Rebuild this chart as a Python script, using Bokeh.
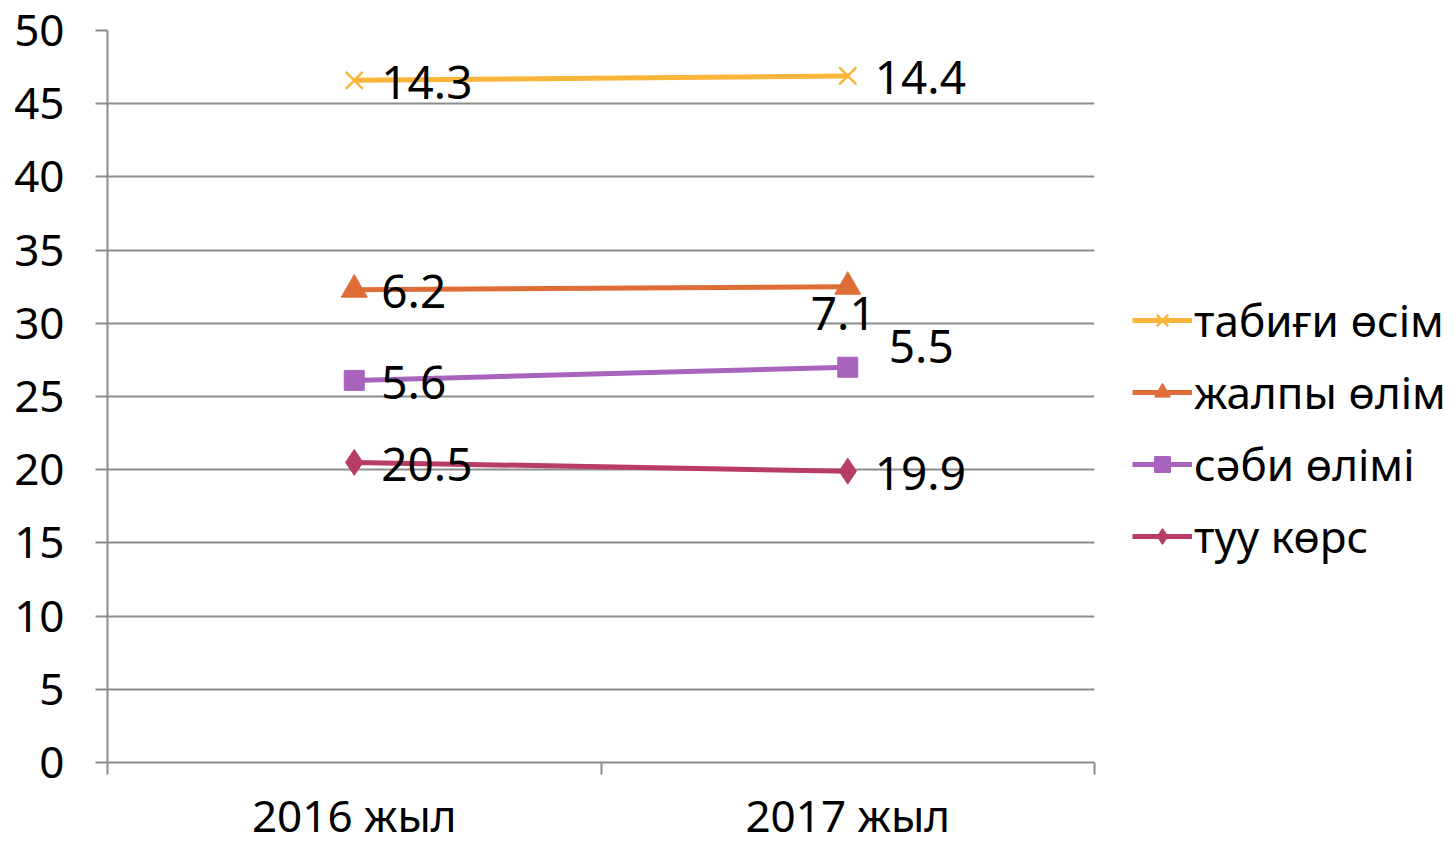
from bokeh.plotting import figure
from bokeh.models import FixedTicker, Legend, LegendItem, Range1d
from bokeh.core.properties import value
from bokeh.embed import file_html
from bokeh.resources import INLINE

# ---- data ----
years = ["2016 жыл", "2017 жыл"]
tuu_kors = [20.5, 19.9]        # туу көрс
sabi_olimi = [5.6, 7.1]        # сәби өлімі
zhalpy_olim = [6.2, 5.5]       # жалпы өлім
tabigi_osim = [14.3, 14.4]     # табиғи өсім
y_ticks = [0, 5, 10, 15, 20, 25, 30, 35, 40, 45, 50]

FONT = "Noto Sans"
FS = "46px"
x_pos = [i + 0.5 for i in range(len(years))]

# stacked values (stacked line chart)
s1 = tuu_kors
s2 = [a + b for a, b in zip(s1, sabi_olimi)]
s3 = [a + b for a, b in zip(s2, zhalpy_olim)]
s4 = [a + b for a, b in zip(s3, tabigi_osim)]

p = figure(frame_width=987, frame_height=732, output_backend="svg",
           toolbar_location=None, min_border_left=107, min_border_top=30,
           min_border_bottom=80, min_border_right=350,
           x_range=Range1d(0, len(years)), y_range=Range1d(0, 50))
p.outline_line_color = None
p.background_fill_color = "white"

GRID = "#8c8c8c"
p.xgrid.grid_line_color = None
p.ygrid.grid_line_color = GRID
p.ygrid.grid_line_width = 2
p.yaxis.ticker = FixedTicker(ticks=y_ticks)
p.xaxis.ticker = FixedTicker(ticks=x_pos, minor_ticks=list(range(len(years) + 1)))
p.xaxis.major_label_overrides = {x: y for x, y in zip(x_pos, years)}

for ax in (p.xaxis[0], p.yaxis[0]):
    ax.axis_line_color = GRID
    ax.axis_line_width = 2
    ax.major_label_text_font = FONT
    ax.major_label_text_font_size = "44px"
    ax.major_label_text_color = "black"

p.yaxis.major_tick_out = 12
p.yaxis.major_tick_in = 0
p.yaxis.major_tick_line_color = GRID
p.yaxis.major_tick_line_width = 2
p.yaxis.minor_tick_line_color = None
p.yaxis.major_label_standoff = 31

p.xaxis.major_tick_line_color = None
p.xaxis.minor_tick_out = 12
p.xaxis.minor_tick_in = 0
p.xaxis.minor_tick_line_color = GRID
p.xaxis.minor_tick_line_width = 2
p.xaxis.major_label_standoff = 10

series = [
    ("табиғи өсім", s4, tabigi_osim, "#F9B43A", "x", 24, [(27, 0), (27, 0)]),
    ("жалпы өлім", s3, zhalpy_olim, "#DF6D37", "triangle", 26, [(27, 0), (41, 58)]),
    ("сәби өлімі", s2, sabi_olimi, "#A863BD", "square", 20, [(27, 0), (-37, -56)]),
    ("туу көрс", s1, tuu_kors, "#B93C67", "diamond", 26, [(27, 0), (27, 0)]),
]

items = []
for name, ys, labels, color, marker, size, offs in series:
    ln = p.line(x_pos, ys, line_color=color, line_width=5)
    if marker == "x":
        mk = p.scatter(x_pos, ys, marker="x", size=size, line_color=color, line_width=2.5)
    else:
        mk = p.scatter(x_pos, ys, marker=marker, size=size, fill_color=color,
                       line_color=color)
    for xv, yv, lab, (dx, dy) in zip(x_pos, ys, labels, offs):
        p.text([xv], [yv], text=[f"{lab}"], x_offset=dx, y_offset=dy + 2,
               text_font=value(FONT), text_font_size=FS, text_color="black",
               text_baseline="middle", text_align="left")
    items.append(LegendItem(label=name, renderers=[ln, mk]))

legend = Legend(items=items, location=(38, 196), orientation="vertical",
                label_text_font=FONT, label_text_font_size="44px",
                label_text_color="black", glyph_width=60, glyph_height=40,
                label_height=40, spacing=12, padding=0, margin=0,
                label_standoff=2, border_line_color=None,
                background_fill_alpha=0)
p.add_layout(legend, "right")

open("out.html", "w").write(file_html(p, INLINE))
